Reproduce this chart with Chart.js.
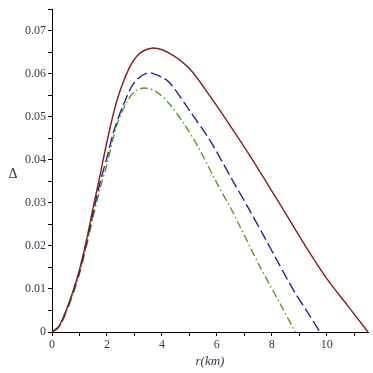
<!DOCTYPE html>
<html>
<head>
<meta charset="utf-8">
<script src="https://cdn.jsdelivr.net/npm/chart.js@4.4.1/dist/chart.umd.min.js"></script>
<style>
    html, body { margin: 0; padding: 0; background: #fff; }
    #wrap { width: 373px; height: 373px; }
</style>
</head>
<body>
<div id="wrap"><canvas id="grafico" width="373" height="373"></canvas></div>
<script>
// r (km) and Delta
const redR = [0, 0.25, 0.5, 0.75, 1.0, 1.25, 1.5, 1.75, 2.0, 2.35, 2.8, 3.2, 3.7, 4.3, 5.0, 5.75, 6.5, 7.2, 7.9, 8.6, 9.3, 10.0, 10.75, 11.5];
const redD = [0, 0.0013, 0.0048, 0.0092, 0.0145, 0.0212, 0.029, 0.0365, 0.0442, 0.0535, 0.0612, 0.0648, 0.066, 0.0647, 0.0612, 0.0548, 0.0478, 0.041, 0.0338, 0.0265, 0.0192, 0.0124, 0.0062, 0];

const blueR = [0, 0.25, 0.5, 0.75, 1.0, 1.25, 1.5, 1.75, 2.0, 2.25, 2.6, 3.0, 3.5, 4.0, 4.3, 5.0, 5.75, 6.6, 7.2, 7.7, 8.2, 8.8, 9.3, 9.75];
const blueD = [0, 0.0012, 0.0046, 0.0089, 0.014, 0.0205, 0.0278, 0.0348, 0.0405, 0.0467, 0.0528, 0.058, 0.0602, 0.0592, 0.0578, 0.0515, 0.0445, 0.0349, 0.0282, 0.0224, 0.0165, 0.0096, 0.0046, 0];

const greenR = [0, 0.25, 0.5, 0.75, 1.0, 1.25, 1.5, 1.75, 2.0, 2.35, 2.7, 3.0, 3.35, 3.8, 4.3, 4.8, 5.3, 6.05, 6.5, 6.85, 7.55, 8.3, 8.85];
const greenD = [0, 0.0011, 0.0043, 0.0085, 0.0135, 0.0198, 0.0268, 0.0333, 0.0389, 0.0479, 0.0532, 0.0558, 0.0567, 0.0558, 0.0528, 0.0484, 0.0432, 0.034, 0.0288, 0.0244, 0.0154, 0.0066, 0];

const xTicks = [0, 2, 4, 6, 8, 10];
const yTicks = [0, 0.01, 0.02, 0.03, 0.04, 0.05, 0.06, 0.07];

const toPoints = (rs, ds) => rs.map((r, i) => ({ x: r, y: ds[i] }));

const serif = "'Liberation Serif', 'DejaVu Serif', serif";

// upright Delta at the left of the y axis
const deltaLabel = {
    id: "deltaLabel",
    afterDraw(chart) {
        const ctx = chart.ctx;
        const area = chart.chartArea;
        ctx.save();
        ctx.fillStyle = "#333";
        ctx.font = "14px " + serif;
        ctx.textAlign = "center";
        ctx.textBaseline = "middle";
        ctx.fillText("\u0394", area.left - 39, (area.top + area.bottom) / 2 + 4);
        ctx.restore();
    }
};

const isMajorX = v => xTicks.includes(Math.round(v * 100) / 100);
const isMajorY = v => yTicks.some(t => Math.abs(t - v) < 1e-9);

new Chart(document.getElementById("grafico"), {
    type: "line",
    data: {
        datasets: [
            {
                data: toPoints(redR, redD),
                borderColor: "#8b1a1a",
                borderWidth: 1.4,
                pointRadius: 0,
                tension: 0.3,
                fill: false
            },
            {
                data: toPoints(blueR, blueD),
                borderColor: "#1c2a8f",
                borderWidth: 1.4,
                borderDash: [11, 4],
                pointRadius: 0,
                tension: 0.3,
                fill: false
            },
            {
                data: toPoints(greenR, greenD),
                borderColor: "#5b9a1e",
                borderWidth: 1.4,
                borderDash: [8, 3, 1.5, 3],
                pointRadius: 0,
                tension: 0.3,
                fill: false
            }
        ]
    },
    options: {
        responsive: false,
        animation: false,
        devicePixelRatio: 1,
        layout: { padding: { top: 5, right: 5, left: 0, bottom: 0 } },
        plugins: {
            legend: { display: false },
            tooltip: { enabled: false }
        },
        scales: {
            x: {
                type: "linear",
                min: 0,
                max: 11.5,
                afterFit: scale => { scale.height = 41; },
                border: { color: "#000", width: 1 },
                grid: { drawOnChartArea: false, tickLength: 4, tickColor: "#000" },
                ticks: {
                    stepSize: 1,
                    includeBounds: false,
                    maxRotation: 0,
                    autoSkip: false,
                    padding: 2,
                    color: "#333a4a",
                    font: { family: serif, size: 12 },
                    callback: v => isMajorX(v) ? String(v) : ""
                },
                title: {
                    display: true,
                    text: "r(km)",
                    color: "#333a4a",
                    padding: { top: 0, bottom: 4 },
                    font: { family: serif, size: 13, style: "italic" }
                }
            },
            y: {
                type: "linear",
                min: 0,
                max: 0.075,
                afterFit: scale => { scale.width = 52; },
                border: { color: "#000", width: 1 },
                grid: { drawOnChartArea: false, tickLength: 4, tickColor: "#000" },
                ticks: {
                    stepSize: 0.005,
                    includeBounds: false,
                    autoSkip: false,
                    padding: 2,
                    color: "#333a4a",
                    font: { family: serif, size: 12 },
                    callback: v => isMajorY(v) ? (v === 0 ? "0" : v.toFixed(2)) : ""
                }
            }
        }
    },
    plugins: [deltaLabel]
});
</script>
</body>
</html>
